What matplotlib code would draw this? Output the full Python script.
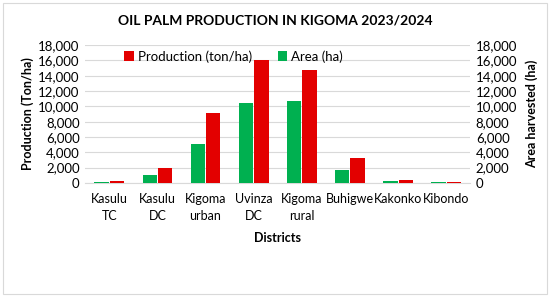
import numpy as np
import matplotlib.pyplot as plt
from matplotlib.patches import Rectangle

plt.rcParams['font.family'] = ['Lato', 'DejaVu Sans']

districts = ['Kasulu\nTC', 'Kasulu\nDC', 'Kigoma\nurban', 'Uvinza\nDC',
             'Kigoma\nrural', 'Buhigwe', 'Kakonko', 'Kibondo']
production = [300, 1900, 9200, 16100, 14800, 3200, 350, 150]
area = [150, 1100, 5100, 10500, 10700, 1700, 250, 100]

red = '#E30000'
green = '#00B050'

fig = plt.figure(figsize=(5.5, 2.97), dpi=100)
ax = fig.add_axes([0.155, 0.384, 0.70, 0.464])
ax2 = ax.twinx()

x = np.arange(len(districts))
w = 0.3
ax.bar(x + 0.16, production, width=w, color=red, label='Production (ton/ha)', zorder=3)
ax2.bar(x - 0.16, area, width=w, color=green, label='Area (ha)', zorder=3)

ticks = np.arange(0, 18001, 2000)
for a in (ax, ax2):
    a.set_ylim(0, 18000)
    a.set_yticks(ticks)
    a.set_yticklabels([f'{t:,}' for t in ticks], fontsize=9.5)
    a.tick_params(length=0, pad=4)
    for s in a.spines.values():
        s.set_visible(False)
ax.set_xlim(-0.5, len(districts) - 0.5)
ax.grid(axis='y', color='#D9D9D9', lw=0.8, zorder=0)
ax.set_axisbelow(True)
ax.spines['bottom'].set_visible(True)
ax.spines['bottom'].set_color('#D9D9D9')
ax.set_xticks(x)
ax.set_xticklabels(districts, fontsize=9, linespacing=1.55)
ax.tick_params(axis='x', pad=7)

ax.set_ylabel('Production (Ton/ha)', fontsize=9, fontweight='bold', labelpad=3)
ax2.set_ylabel('Area harvested (ha)', fontsize=9, fontweight='bold', labelpad=6)
ax.set_xlabel('Districts', fontsize=9, fontweight='bold', labelpad=7)
fig.text(0.5, 0.93, 'OIL PALM PRODUCTION IN KIGOMA 2023/2024',
         ha='center', va='center', fontsize=10, fontweight='bold')

h1, l1 = ax.get_legend_handles_labels()
h2, l2 = ax2.get_legend_handles_labels()
fig.legend(h1 + h2, l1 + l2, loc='center', bbox_to_anchor=(0.425, 0.81), ncol=2,
           frameon=False, fontsize=9.5, handlelength=0.7, handleheight=0.7,
           handletextpad=0.3, columnspacing=2.0)

fig.patches.append(Rectangle((0.005, 0.01), 0.99, 0.98, transform=fig.transFigure,
                             fill=False, edgecolor='#D9D9D9', lw=0.8))

fig.savefig('out.png', dpi=100)
